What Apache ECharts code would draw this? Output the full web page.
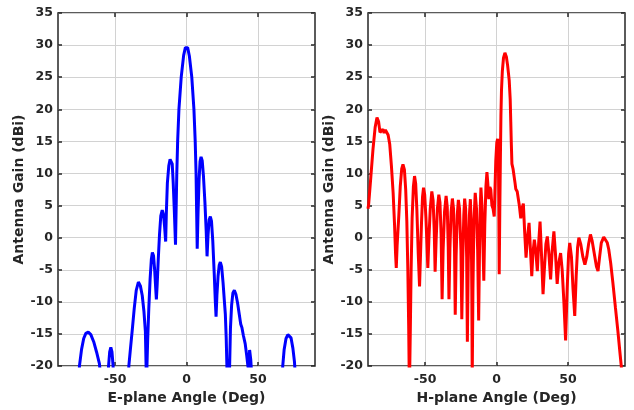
<!DOCTYPE html>
<html>
<head>
<meta charset="utf-8">
<script src="https://cdn.jsdelivr.net/npm/echarts@6/dist/echarts.min.js"></script>
<style>
  html, body { margin: 0; padding: 0; background: #fff; }
  #chart { width: 634px; height: 410px; }
</style>
</head>
<body>
<div id="chart"></div>
<script>
// tick positions
const xTicks = [-50, 0, 50];

// E-plane pattern (left)
const eAngle = [-90, -76, -75, -73.5, -72, -70.5, -68.8, -67, -65, -63, -61, -60, -59,
  -56, -54.6, -53.8, -53, -52.2, -51.4, -50.5,
  -41.5, -40.4, -39.3, -38, -36.6, -35.2, -33.7, -32.3, -31, -29.8, -28.8, -28.3, -28,
  -27.7, -27.2, -26.4, -25.5, -24.6, -23.9, -23.1, -22.3, -21.6, -21.1,
  -20.6, -19.8, -18.9, -18, -17, -16.1, -15.3, -14.6,
  -14.1, -13.4, -12.4, -11.5, -10.7, -10, -9.3, -8.5, -7.7,
  -7.3, -6.8, -6.2, -5.3, -3.7, -2, -0.8, 0, 0.8, 2, 3.7, 5.2, 6.1, 6.7, 7.1, 7.5,
  8.1, 8.8, 9.5, 10.2, 11, 11.9, 12.9, 13.8, 14.4,
  15.1, 15.9, 16.7, 17.5, 18.4, 19.4, 20.2, 20.7,
  21.3, 22.1, 22.9, 23.7, 24.6, 25.6, 26.5, 27.2, 27.8, 28.3, 28.8,
  29.6, 30.2, 30.8, 31.6, 32.5, 33.5, 34.6, 35.8, 37, 38, 38.8, 39.8, 41.1, 42.2, 43,
  43.5, 44.2, 45, 45.7, 46.3,
  66, 67.4, 68.4, 69.7, 71, 72, 73.2, 74.5, 75.6, 76.4, 77, 90];
const eGain = [-40, -30, -20, -17.4, -15.7, -14.9, -14.7, -15.1, -16.2, -17.8, -19.6, -22, -30,
  -30, -20, -17.8, -17.1, -17.8, -20, -30,
  -30, -20, -17.4, -14.4, -11, -8.2, -6.9, -7.5, -9, -11.5, -14.6, -20, -28,
  -20, -16, -11, -6.5, -3.3, -2.3, -2.8, -5, -7.8, -9.6,
  -7.6, -3.5, 0.5, 3.4, 4.3, 3.6, 1.6, -0.6,
  4, 8.5, 11.2, 12.2, 12.4, 11.5, 8.5, 4, -1.1,
  4, 10, 15, 20, 25, 28.4, 29.6, 29.8, 29.6, 28.3, 25, 20, 15, 10, 4, -1.7,
  4, 9, 11.9, 12.6, 12, 9.5, 5.5, 1, -2.9,
  0.5, 2.8, 3.3, 2.6, -0.5, -5.5, -10, -12.3,
  -9, -6, -4.3, -3.8, -4.5, -7, -9.8, -11.9, -15.5, -20, -28,
  -28, -20, -14, -10.5, -8.6, -8.2, -8.8, -10.2, -12, -13.5, -14, -15.2, -16.5, -18.4, -20,
  -20.5, -17.5, -19, -21.5, -30,
  -30, -20, -17.4, -15.7, -15.1, -15.1, -15.6, -17.2, -19.3, -22, -30, -40];

// H-plane pattern (right)
const hAngle = [-90, -89.5, -88, -86.5, -85, -83.7, -82.6, -81.6, -80.6, -79.6, -78.7, -77.8,
  -76.8, -75.9, -74.8, -73.6, -72.4, -71.4, -70.7, -70.2,
  -69.6, -68.4, -67.4, -66.4, -65.5, -64.5, -63.6, -62.8, -62.1, -61.5, -61,
  -60.4, -59.8, -59.1, -58.2, -57.4, -56.6, -55.8, -54.8, -53.9,
  -53.2, -52.5, -51.8, -51.1, -50.3, -49.4, -48.7, -48.1,
  -47.4, -46.4, -45.3, -44.4, -43.6, -43,
  -42.3, -41.4, -40.4, -39.6, -38.8, -38.1,
  -37.4, -36.4, -35.3, -34.5, -33.8, -33.3,
  -32.6, -31.8, -30.9, -30.1, -29.4, -28.9,
  -28.3, -27.5, -26.7, -25.9, -24.9, -24.3,
  -23.6, -22.9, -22.3, -21.6, -20.9, -20.4,
  -19.8, -19, -18.3, -17.7, -17.3, -17,
  -16.5, -15.8, -14.9, -14, -13.2, -12.5,
  -11.9, -11.4, -10.9, -10.2, -9.5, -8.9,
  -8.2, -7.4, -6.7, -6.1, -5.4, -4.7, -4, -3.2, -2.4, -1.6,
  -1, -0.5, 0.2, 0.8, 1.3, 1.6, 1.9,
  2.3, 2.7, 3.1, 3.5, 4.1, 4.9, 5.9, 6.9, 7.8, 8.9, 9.6, 10, 10.4, 10.8, 11.6, 12.3,
  13, 13.5, 14.5, 15.3, 16, 17, 17.8, 18.8, 19.7, 20.7, 21.7, 22.8, 23.8, 24.7,
  25.5, 26.5, 27.5, 28.6, 29.5, 30.5, 31.4, 32.6, 33.5, 34.6, 35.6, 36.7, 37.9,
  39, 40.2, 41.3, 42.5, 43.6, 44.9, 46, 47.2, 48.4, 49.5, 50.5, 51.3, 52.5, 53.6,
  54.8, 55.8, 56.8, 57.7, 59, 60.5, 61.9, 63.2, 64.5, 65.8, 67, 68.5, 70, 71.1,
  72.2, 73.4, 75.1, 76.4, 77.6, 78.6, 80, 81.5, 83.3, 85, 86.5, 87.4, 88];
const hGain = [4.5, 5.3, 9.5, 13.8, 17.2, 18.7, 18.1, 16.4, 16.7, 16.9, 16.3, 16.8,
  16.9, 16, 14.6, 11.2, 7, 2, -2.5, -4.7,
  -1.2, 3.5, 8, 10.7, 11.4, 10.6, 7.5, 2.5, -5, -14, -24,
  -15, -5, 3, 8, 9.6, 8.4, 4.5, -2.5, -7.6,
  -2.5, 2.5, 6.4, 7.8, 6.7, 3, -1, -4.7,
  -0.5, 4.5, 7.2, 5.8, 1, -5.3,
  -0.5, 4.5, 6.7, 5.5, 0.5, -9.6,
  -2, 4, 6.5, 4.8, -1.5, -9.6,
  -1.5, 4, 6.1, 4.5, -2, -12,
  -3, 3.5, 5.9, 4.5, -2, -12.7,
  -3, 3.5, 6.1, 4.5, -3, -16.2,
  -4, 3.5, 6, 2, -8, -22,
  -8, 2.5, 7, 4.5, -2, -12.9,
  -2, 4.5, 7.8, 5, -1, -6.7,
  2, 8, 10.2, 8.5, 6, 7.9, 7.5, 5, 4.5, 3.3,
  8, 12, 14.8, 15.4, 14, 5, -5.7,
  4, 12, 19, 23, 26, 28, 28.8, 28.2, 26.8, 24.5, 21.5, 18, 14.5, 11.5, 10.7, 10.5,
  8.5, 7.6, 7.2, 7.4, 5, 3, 4.5, 5.3, 1, -3.1, 0, 2.3, -2, -6,
  -2.5, -0.3, -2, -5.2, -1, 2.5, -2, -8.8, -5, -1, 0.2, -2.5, -6.5,
  -2, 1, -2.5, -7.2, -4, -2.4, -5, -10, -16, -8, -2.5, -0.8, -3, -8,
  -12.2, -6, -1.5, 0, -1, -3, -4.2, -3, -1, 0.5, -0.5, -2.5, -4.5, -5.2,
  -3, -0.8, 0.1, -0.2, -0.8, -1.8, -4, -7, -10.9, -14.5, -18, -20, -23];

function pairs(xs, ys) {
  return xs.map((x, i) => [x, ys[i]]);
}

const ink = '#262626';
const font = 'DejaVu Sans';
const gridGray = '#d2d2d2';

function xAx(grid, name, top) {
  return {
    type: 'value', gridIndex: grid, min: -90, max: 90,
    position: top ? 'top' : 'bottom',
    name: top ? '' : name, nameLocation: 'middle', nameGap: 21,
    nameTextStyle: { fontFamily: font, fontWeight: 'bold', fontSize: 14, color: ink },
    axisLine: { show: false, onZero: false },
    axisTick: { inside: true, length: 4, customValues: xTicks, lineStyle: { color: ink, width: 1.5 } },
    axisLabel: { show: !top, customValues: xTicks, margin: 7, fontFamily: font, fontWeight: 'bold', fontSize: 12.5, color: ink },
    splitLine: { show: !top, lineStyle: { color: gridGray, width: 1 } }
  };
}

function yAx(grid, right) {
  return {
    type: 'value', gridIndex: grid, min: -20, max: 35, interval: 5,
    position: right ? 'right' : 'left',
    name: right ? '' : 'Antenna Gain (dBi)', nameLocation: 'middle', nameGap: 31,
    nameTextStyle: { fontFamily: font, fontWeight: 'bold', fontSize: 14, color: ink },
    axisLine: { show: false, onZero: false },
    axisTick: { inside: true, length: 4, lineStyle: { color: ink, width: 1.5 } },
    axisLabel: { show: !right, margin: 5, fontFamily: font, fontWeight: 'bold', fontSize: 12.5, color: ink },
    splitLine: { show: !right, lineStyle: { color: gridGray, width: 1 } }
  };
}

const chart = echarts.init(document.getElementById('chart'), null, { renderer: 'canvas' });
chart.setOption({
  animation: false,
  grid: [
    { left: 58, top: 13, width: 257, height: 356, show: true, borderColor: ink, borderWidth: 1.5 },
    { left: 368, top: 13, width: 257, height: 356, show: true, borderColor: ink, borderWidth: 1.5 }
  ],
  xAxis: [
    xAx(0, 'E-plane Angle (Deg)', false), xAx(0, '', true),
    xAx(1, 'H-plane Angle (Deg)', false), xAx(1, '', true)
  ],
  yAxis: [yAx(0, false), yAx(0, true), yAx(1, false), yAx(1, true)],
  series: [
    {
      type: 'line', xAxisIndex: 0, yAxisIndex: 0, data: pairs(eAngle, eGain),
      showSymbol: false, clip: true, lineStyle: { color: '#0000ff', width: 3 }
    },
    {
      type: 'line', xAxisIndex: 2, yAxisIndex: 2, data: pairs(hAngle, hGain),
      showSymbol: false, clip: true, lineStyle: { color: '#ff0000', width: 3 }
    }
  ]
});
window.addEventListener('resize', () => chart.resize());
</script>
</body>
</html>
